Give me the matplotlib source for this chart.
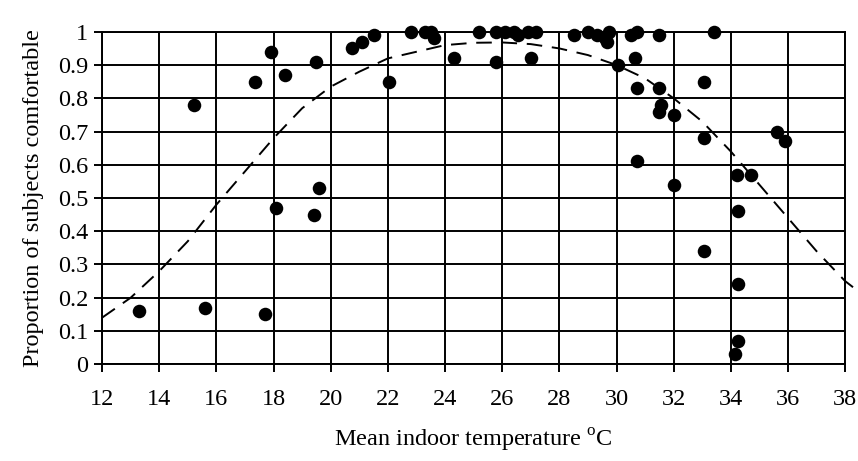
import matplotlib
matplotlib.use("Agg")
import matplotlib.pyplot as plt

plt.rcParams['font.family'] = ['Liberation Serif', 'DejaVu Serif']
plt.rcParams['mathtext.fontset'] = 'custom'
plt.rcParams['mathtext.rm'] = 'Liberation Serif'

# observed points (mean indoor temperature, proportion comfortable)
temp = [13.3, 15.2, 15.6, 17.35, 17.7, 17.9, 18.1, 18.4, 19.5, 19.4, 19.6,
        20.75, 21.1, 21.5, 22.05, 22.8, 23.3, 23.5, 23.6, 24.3, 25.2, 25.8,
        25.8, 26.1, 26.4, 26.55, 26.9, 27.0, 27.2, 28.5, 29.0, 29.3, 29.6,
        29.65, 29.75, 30.05, 30.5, 30.7, 30.65, 30.7, 30.7, 31.5, 31.5,
        31.5, 31.55, 32.0, 32.0, 33.05, 33.05, 33.05, 33.4, 34.2, 34.25,
        34.25, 34.25, 34.15, 34.7, 35.6, 35.9]
prop = [0.16, 0.78, 0.17, 0.85, 0.15, 0.94, 0.47, 0.87, 0.91, 0.45, 0.53,
        0.95, 0.97, 0.99, 0.85, 1.0, 1.0, 1.0, 0.98, 0.92, 1.0, 1.0,
        0.91, 1.0, 1.0, 0.99, 1.0, 0.92, 1.0, 0.99, 1.0, 0.99, 0.98,
        0.97, 1.0, 0.90, 0.99, 1.0, 0.92, 0.83, 0.61, 0.99, 0.83,
        0.76, 0.78, 0.75, 0.54, 0.85, 0.68, 0.34, 1.0, 0.57, 0.46,
        0.24, 0.07, 0.03, 0.57, 0.70, 0.67]

# fitted curve
curve_t = [12, 13, 14, 15, 16, 17, 18, 19, 20, 21, 22, 23, 24, 25, 26,
           27, 28, 29, 30, 31, 32, 33, 34, 35, 36, 37, 38, 38.45]
curve_p = [0.14, 0.20, 0.28, 0.37, 0.48, 0.58, 0.68, 0.77, 0.835, 0.88,
           0.92, 0.94, 0.96, 0.967, 0.968, 0.963, 0.95, 0.93, 0.90, 0.86,
           0.80, 0.73, 0.64, 0.54, 0.44, 0.34, 0.25, 0.22]

xticks = list(range(12, 39, 2))
yticks = [i / 10 for i in range(11)]
ytick_labels = ['0', '0.1', '0.2', '0.3', '0.4', '0.5', '0.6', '0.7', '0.8', '0.9', '1']

fig = plt.figure(figsize=(8.58, 4.61), dpi=100)
ax = fig.add_axes([0.119, 0.210, 0.866, 0.721])

ax.set_xlim(12, 38)
ax.set_ylim(0, 1)
ax.set_xticks(xticks)
ax.set_yticks(yticks)
ax.set_yticklabels(ytick_labels)
ax.grid(True, color='black', linewidth=1.4)
ax.set_axisbelow(True)
for s in ax.spines.values():
    s.set_linewidth(1.4)
    s.set_color('black')

ax.tick_params(axis='both', labelsize=17.5, width=1.4, length=6, color='black')
ax.tick_params(axis='x', pad=12)
ax.tick_params(axis='y', pad=4)

ax.plot(curve_t, curve_p, color='black', linewidth=1.4, dashes=(8, 5), clip_on=False, zorder=3)
ax.scatter(temp, prop, s=95, color='black', zorder=4, clip_on=False, linewidths=0)

ax.set_xlabel('Mean indoor temperature $^{\\mathrm{o}}$C', fontsize=17.5, labelpad=12)
ax.set_ylabel('Proportion of subjects comfortable', fontsize=17.5, labelpad=10)

fig.savefig('out.png', dpi=100)
